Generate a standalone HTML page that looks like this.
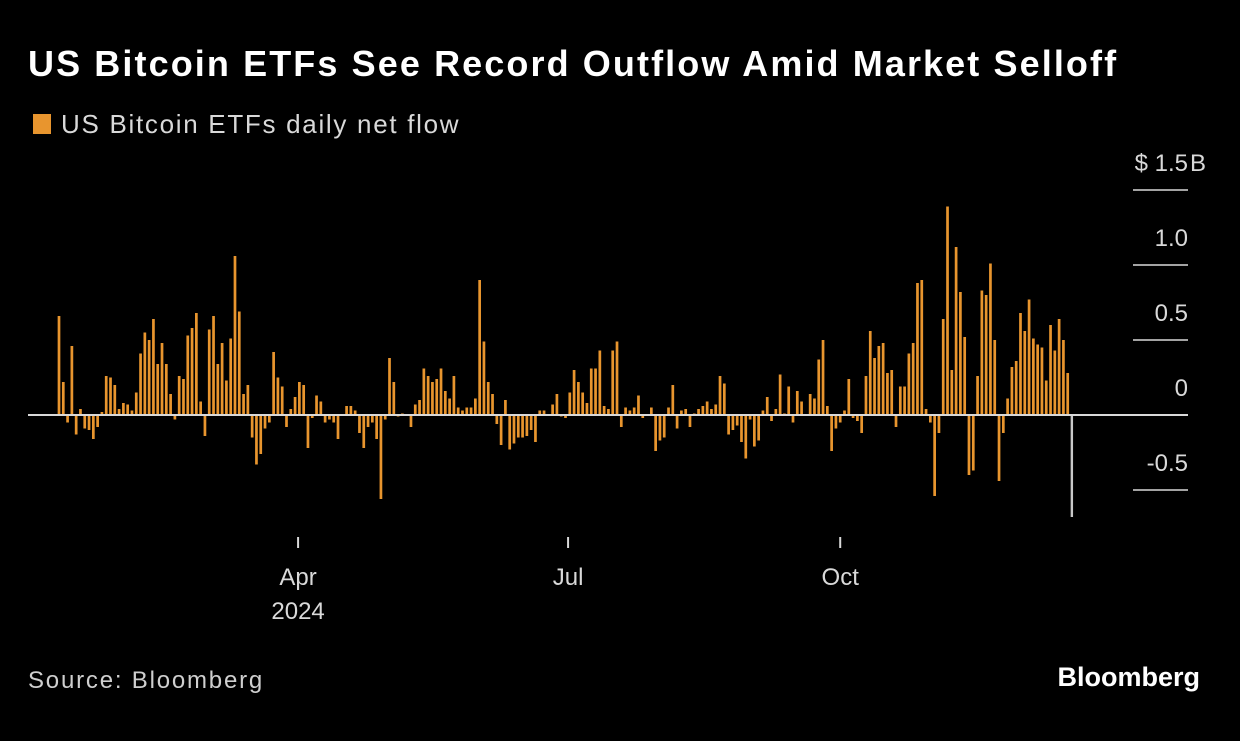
<!DOCTYPE html>
<html><head><meta charset="utf-8">
<style>
html,body{margin:0;padding:0;background:#000;}
body{width:1240px;height:736px;overflow:hidden;font-family:"Liberation Sans",sans-serif;}
</style></head>
<body>
<svg id="chart" width="1240" height="736" xmlns="http://www.w3.org/2000/svg">
<rect x="0" y="0" width="1240" height="736" fill="#000"/>
<text x="28" y="76" font-family="Liberation Sans, sans-serif" font-size="36" font-weight="bold" fill="#fff" letter-spacing="2.1">US Bitcoin ETFs See Record Outflow Amid Market Selloff</text>
<rect x="33" y="114" width="18" height="20" fill="#e8952e"/>
<text x="61" y="133" font-family="Liberation Sans, sans-serif" font-size="26" fill="#d9d9d9" letter-spacing="1.7">US Bitcoin ETFs daily net flow</text>
<g id="yaxis"></g>
<g id="bars"></g>
<line x1="28" x2="1188" y1="415" y2="415" stroke="#d9d9d9" stroke-width="2"/>
<g id="xaxis"></g>
<text x="28" y="688" font-family="Liberation Sans, sans-serif" font-size="24" fill="#cfcfcf" letter-spacing="1.8">Source: Bloomberg</text>
<text x="1200" y="686" text-anchor="end" font-family="Liberation Sans, sans-serif" font-size="27" font-weight="bold" fill="#fff">Bloomberg</text>
</svg>
<script>
const flows = [0.66,0.22,-0.05,0.46,-0.13,0.04,-0.09,-0.10,-0.16,-0.08,0.02,0.26,0.25,0.20,0.04,0.08,0.07,0.03,0.15,0.41,0.55,0.50,0.64,0.34,0.48,0.34,0.14,-0.03,0.26,0.24,0.53,0.58,0.68,0.09,-0.14,0.57,0.66,0.34,0.48,0.23,0.51,1.06,0.69,0.14,0.20,-0.15,-0.33,-0.26,-0.09,-0.05,0.42,0.25,0.19,-0.08,0.04,0.12,0.22,0.20,-0.22,-0.02,0.13,0.09,-0.05,-0.03,-0.05,-0.16,0.00,0.06,0.06,0.03,-0.12,-0.22,-0.08,-0.05,-0.16,-0.56,-0.03,0.38,0.22,-0.01,0.01,0.00,-0.08,0.07,0.10,0.31,0.26,0.22,0.24,0.31,0.16,0.11,0.26,0.05,0.03,0.05,0.05,0.11,0.90,0.49,0.22,0.14,-0.06,-0.20,0.10,-0.23,-0.19,-0.15,-0.15,-0.14,-0.10,-0.18,0.03,0.03,0.005,0.07,0.14,-0.01,-0.02,0.15,0.30,0.22,0.15,0.08,0.31,0.31,0.43,0.06,0.04,0.43,0.49,-0.08,0.05,0.03,0.05,0.13,-0.02,0.00,0.05,-0.24,-0.17,-0.15,0.05,0.20,-0.09,0.03,0.04,-0.08,0.01,0.04,0.06,0.09,0.04,0.07,0.26,0.21,-0.13,-0.10,-0.07,-0.18,-0.29,-0.03,-0.21,-0.17,0.03,0.12,-0.04,0.04,0.27,0.01,0.19,-0.05,0.16,0.09,0.00,0.14,0.11,0.37,0.50,0.06,-0.24,-0.09,-0.05,0.03,0.24,-0.02,-0.04,-0.12,0.26,0.56,0.38,0.46,0.48,0.28,0.30,-0.08,0.19,0.19,0.41,0.48,0.88,0.90,0.04,-0.05,-0.54,-0.12,0.64,1.39,0.30,1.12,0.82,0.52,-0.40,-0.37,0.26,0.83,0.80,1.01,0.50,-0.44,-0.12,0.11,0.32,0.36,0.68,0.56,0.77,0.51,0.47,0.45,0.23,0.60,0.43,0.64,0.50,0.28,-0.68];
const yTicks = [1.5,1.0,0.5,0,-0.5];
const yTickLabels = ["$ 1.5","1.0","0.5","0","-0.5"];
const yTickSuffix = ["B","","","",""];
const xTickIndex = [55.7,118.6,182];
const xTickLabels = ["Apr","Jul","Oct"];
const xTickSub = ["2024","",""];

const NS="http://www.w3.org/2000/svg";
const x0=59, x1=1072, zeroY=415, pxPerB=150;
function xPos(i){return x0+(x1-x0)*i/(flows.length-1);}
function yPos(v){return zeroY-v*pxPerB;}
function el(t,a){const e=document.createElementNS(NS,t);for(const k in a)e.setAttribute(k,a[k]);return e;}

const barsG=document.getElementById('bars');
flows.forEach((v,i)=>{
  const last=i===flows.length-1;
  const y=Math.min(yPos(v),zeroY), h=Math.max(Math.abs(yPos(v)-zeroY),0.6);
  const r=el('rect',{x:(xPos(i)-1.35).toFixed(2),y:y.toFixed(2),width:last?2.4:2.7,height:h.toFixed(2),fill:last?'#c8c8c8':'#e8952e'});
  
  
  barsG.appendChild(r);
});

const yG=document.getElementById('yaxis');
yTicks.forEach((v,i)=>{
  if(v!==0){
    const l=el('line',{x1:1133,x2:1188,y1:yPos(v),y2:yPos(v),stroke:'#d9d9d9','stroke-width':1.5});
    
    
    yG.appendChild(l);
  }
  const t=el('text',{x:1188,y:yPos(v)-19,'text-anchor':'end','font-family':'Liberation Sans, sans-serif','font-size':24,fill:'#d9d9d9'});
  t.textContent=yTickLabels[i];
  
  
  yG.appendChild(t);
  if(yTickSuffix[i]){
    const s=el('text',{x:1190,y:yPos(v)-19,'font-family':'Liberation Sans, sans-serif','font-size':24,fill:'#d9d9d9'});
    s.textContent=yTickSuffix[i];
    
    
    yG.appendChild(s);
  }
});

const xG=document.getElementById('xaxis');
xTickIndex.forEach((ix,i)=>{
  const x=xPos(ix);
  const l=el('line',{x1:x,x2:x,y1:537,y2:548,stroke:'#d9d9d9','stroke-width':2});
  
  
  xG.appendChild(l);
  const t=el('text',{x:x,y:585,'text-anchor':'middle','font-family':'Liberation Sans, sans-serif','font-size':24,fill:'#d9d9d9'});
  t.textContent=xTickLabels[i];
  
  
  xG.appendChild(t);
  if(xTickSub[i]){
    const s=el('text',{x:x,y:619,'text-anchor':'middle','font-family':'Liberation Sans, sans-serif','font-size':24,fill:'#d9d9d9'});
    s.textContent=xTickSub[i];
    
    
    xG.appendChild(s);
  }
});
</script>
</body></html>
